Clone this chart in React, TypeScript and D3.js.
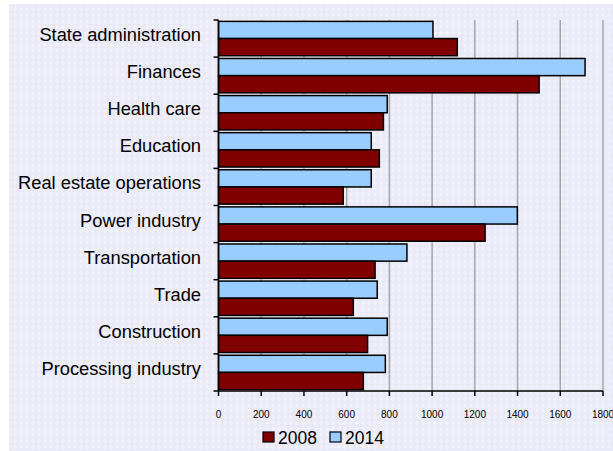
import React from 'react'
import * as d3 from 'd3'

const categories = [
  'State administration',
  'Finances',
  'Health care',
  'Education',
  'Real estate operations',
  'Power industry',
  'Transportation',
  'Trade',
  'Construction',
  'Processing industry',
]
const values2014 = [1004, 1716, 790, 715, 715, 1399, 882, 743, 790, 781]
const values2008 = [1118, 1501, 772, 753, 584, 1248, 733, 631, 698, 678]
const seriesNames = ['2014', '2008']
const seriesColors = ['#99ccff', '#800000']
const xTicks = [0, 200, 400, 600, 800, 1000, 1200, 1400, 1600, 1800]

export default function App() {
  const width = 613,
    height = 451

  const x = d3.scaleLinear().domain([0, 1800]).range([218.5, 603])
  const y = d3.scaleBand().domain(categories).range([20, 391])
  const inner = d3
    .scaleBand()
    .domain(seriesNames)
    .range([0, y.bandwidth()])
    .paddingOuter(0.08)

  const rows = categories.map((c, i) => ({ c, vals: [values2014[i], values2008[i]] }))

  return (
    <svg
      width={width}
      height={height}
      style={{ position: 'absolute', left: 0, top: 0 }}
      fontFamily="Arial, 'Liberation Sans', sans-serif"
    >
      <defs>
        <pattern id="hatch" width="6" height="6" patternUnits="userSpaceOnUse">
          <rect width="6" height="6" fill="#e9e9f7" />
          <path d="M3,0.5 L5.5,3 L3,5.5 L0.5,3 Z" fill="#f1f1fb" />
        </pattern>
      </defs>
      <rect width={width} height={height} fill="#fff" />
      <rect x={9} y={4} width={width - 9} height={height - 4} fill="url(#hatch)" />

      {/* gridlines */}
      {xTicks.slice(1).map(t => (
        <line key={t} x1={x(t)} x2={x(t)} y1={y.range()[0]} y2={y.range()[1]} stroke="#a6a6a6" strokeWidth={1.5} />
      ))}

      {/* bars */}
      {rows.map(r => (
        <g key={r.c} transform={`translate(0, ${y(r.c)})`}>
          {r.vals.map((v, j) => (
            <rect
              key={j}
              x={x(0)}
              y={inner(seriesNames[j])}
              width={x(v) - x(0)}
              height={inner.bandwidth()}
              fill={seriesColors[j]}
              stroke="#000"
              strokeWidth={1.5}
            />
          ))}
        </g>
      ))}

      {/* y axis */}
      <line x1={x(0)} x2={x(0)} y1={y.range()[0]} y2={y.range()[1]} stroke="#000" strokeWidth={1.5} />
      {[...categories.map(c => y(c) as number), y.range()[1]].map((p, i) => (
        <line key={i} x1={x(0) - 5} x2={x(0)} y1={p} y2={p} stroke="#000" strokeWidth={1.5} />
      ))}
      {categories.map(c => (
        <text
          key={c}
          x={201}
          y={(y(c) as number) + y.bandwidth() / 2 + 2.5}
          textAnchor="end"
          fontSize={18.3}
          fill="#000"
        >
          {c}
        </text>
      ))}

      {/* x axis */}
      <line x1={x(0)} x2={x(1800)} y1={y.range()[1]} y2={y.range()[1]} stroke="#000" strokeWidth={1.5} />
      {xTicks.map(t => (
        <g key={t}>
          <line x1={x(t)} x2={x(t)} y1={y.range()[1]} y2={y.range()[1] + 5} stroke="#000" strokeWidth={1.5} />
          <text x={x(t)} y={418} textAnchor="middle" fontSize={10} fill="#000">
            {t}
          </text>
        </g>
      ))}

      {/* legend */}
      <g>
        <rect x={263} y={432} width={11} height={10} fill={seriesColors[1]} stroke="#000" strokeWidth={1.2} />
        <text x={278} y={444} fontSize={17.5} fill="#000">{seriesNames[1]}</text>
        <rect x={330} y={432} width={11} height={10} fill={seriesColors[0]} stroke="#000" strokeWidth={1.2} />
        <text x={345} y={444} fontSize={17.5} fill="#000">{seriesNames[0]}</text>
      </g>
    </svg>
  )
}
